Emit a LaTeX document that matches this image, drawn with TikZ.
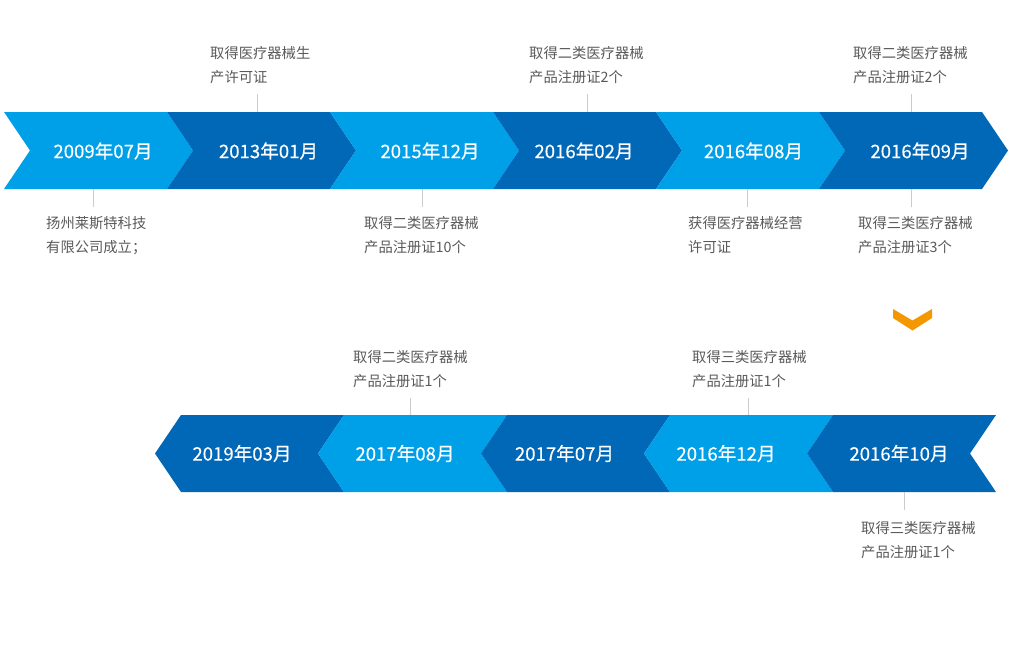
\documentclass[tikz,border=0pt]{standalone}
\usepackage{fontspec}
\setmainfont{Noto Sans CJK SC}
\newfontfamily\datefont{Noto Sans CJK SC}[FakeBold=0.4]
\usetikzlibrary{positioning}
\definecolor{lightblue}{RGB}{0,160,233}
\definecolor{darkblue}{RGB}{0,104,183}
\definecolor{notegray}{RGB}{89,89,89}
\definecolor{linegray}{RGB}{204,204,204}
\definecolor{markorange}{RGB}{243,152,0}

\begin{document}
\begin{tikzpicture}[x=1pt, y=-1pt,
		date/.style={text=white, font=\datefont\fontsize{18.6}{18}\selectfont, inner sep=0},
		note/.style={text=notegray, font=\fontsize{14.3}{24}\selectfont, align=left, anchor=north west, inner sep=0},
		tick/.style={draw=linegray, line width=0.8pt}]
		\useasboundingbox (0,0) rectangle (1010,672);

		% upper row, pointing right
		\foreach \x/\m/\c/\t [count=\i] in {4/103/lightblue/2009年07月, 167/268.5/darkblue/2013年01月, 330/430/lightblue/2015年12月, 493/584/darkblue/2016年02月, 656/753.5/lightblue/2016年08月, 819/920/darkblue/2016年09月} {
			\fill[\c] (\x,112) -- ++(163,0) -- ++(26,38.5) -- ++(-26,38.5) -- ++(-163,0) -- ++(26,-38.5) -- cycle;
			\node[date] (u\i) at (\m,151) {\t};
		}

		% lower row, pointing left
		\foreach \x/\m/\c/\t [count=\i] in {155/242/darkblue/2019年03月, 318/405/lightblue/2017年08月, 481/564.5/darkblue/2017年07月, 644/726/lightblue/2016年12月, 807/899/darkblue/2016年10月} {
			\fill[\c] (\x,453.5) -- ++(26,-38.5) -- ++(163,0) -- ++(-26,38.5) -- ++(26,38.5) -- ++(-163,0) -- cycle;
			\node[date] (l\i) at (\m,453.5) {\t};
		}

		\coordinate (utop) at (0,112);
		\coordinate (ubot) at (0,189);
		\coordinate (ltop) at (0,415);
		\coordinate (lbot) at (0,492);

		% notes of the upper row
		\node[note] (n1) at (46,216.5) {扬州莱斯特科技\\有限公司成立；};
		\node[note] (n2) at (210,46.5) {取得医疗器械生\\产许可证};
		\node[note] (n3) at (364,216.5) {取得二类医疗器械\\产品注册证10个};
		\node[note] (n4) at (529,46.5) {取得二类医疗器械\\产品注册证2个};
		\node[note] (n5) at (688,216.5) {获得医疗器械经营\\许可证};
		\node[note] (n6) at (853,46.5) {取得二类医疗器械\\产品注册证2个};
		\node[note] (n7) at (858,216.5) {取得三类医疗器械\\产品注册证3个};

		\coordinate (e1) at (93.5,207);
		\coordinate (e2) at (257.5,94);
		\coordinate (e3) at (422,207);
		\coordinate (e4) at (587,94);
		\coordinate (e5) at (747,207);
		\coordinate (e6) at (911.5,94);
		\coordinate (e7) at (911.5,207);
		\draw[tick] (e1) -- (e1 |- ubot);
		\draw[tick] (e2) -- (e2 |- utop);
		\draw[tick] (e3) -- (e3 |- ubot);
		\draw[tick] (e4) -- (e4 |- utop);
		\draw[tick] (e5) -- (e5 |- ubot);
		\draw[tick] (e6) -- (e6 |- utop);
		\draw[tick] (e7) -- (e7 |- ubot);

		% turn down to the lower row
		\fill[markorange] (893,309) -- (912.5,320.5) -- (932,309) -- (932,318) -- (912.5,330.5) -- (893,318) -- cycle;

		% notes of the lower row
		\node[note] (n8) at (353,350.5) {取得二类医疗器械\\产品注册证1个};
		\node[note] (n9) at (692,350.5) {取得三类医疗器械\\产品注册证1个};
		\node[note] (n10) at (861,521) {取得三类医疗器械\\产品注册证1个};

		\coordinate (e8) at (410,398);
		\coordinate (e9) at (748,398);
		\coordinate (e10) at (904.5,510);
		\draw[tick] (e8) -- (e8 |- ltop);
		\draw[tick] (e9) -- (e9 |- ltop);
		\draw[tick] (e10) -- (e10 |- lbot);
	\end{tikzpicture}
\end{document}
